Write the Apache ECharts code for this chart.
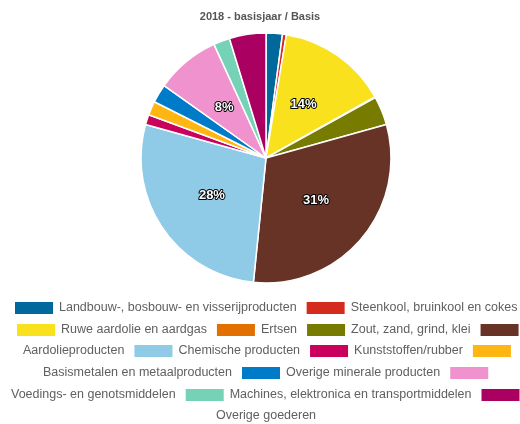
<!DOCTYPE html>
<html>
<head>
<meta charset="utf-8">
<script src="https://cdn.jsdelivr.net/npm/echarts@6/dist/echarts.min.js"></script>
<style>
  html, body { margin: 0; padding: 0; background: #fff; }
  #chart { width: 520px; height: 424px; }
</style>
</head>
<body>
<div id="chart"></div>
<script>
const categories = [
  'Landbouw-, bosbouw- en visserijproducten',
  'Steenkool, bruinkool en cokes',
  'Ruwe aardolie en aardgas',
  'Ertsen',
  'Zout, zand, grind, klei',
  'Aardolieproducten',
  'Chemische producten',
  'Kunststoffen/rubber',
  'Basismetalen en metaalproducten',
  'Overige minerale producten',
  'Voedings- en genotsmiddelen',
  'Machines, elektronica en transportmiddelen',
  'Overige goederen'
];
const values = [2.1, 0.5, 14.2, 0.1, 3.7, 30.8, 27.6, 1.3, 1.8, 2.4, 8.3, 2.1, 4.7];
const colors = ['#01689b', '#d52b1e', '#f9e11e', '#e17000', '#777c00', '#673327',
  '#8fcae7', '#ca005d', '#ffb612', '#007bc7', '#f092cd', '#76d2b6', '#a90061'];

// legend rows like the original: an icon can end a row while its text starts the next one
// each row: [left, centerY, items]; item = [index, part] part: 'b' both, 'i' icon only, 't' text only
const legendRows = [
  [13, 307, [[0, 'b'], [1, 'b']]],
  [15, 329, [[2, 'b'], [3, 'b'], [4, 'b'], [5, 'i']]],
  [-22, 350, [[5, 't'], [6, 'b'], [7, 'b'], [8, 'i']]],
  [-2, 372, [[8, 't'], [9, 'b'], [10, 'i']]],
  [-34, 394, [[10, 't'], [11, 'b'], [12, 'i']]],
  [171, 416, [[12, 't']]]
];

const chart = echarts.init(document.getElementById('chart'));

const legends = legendRows.map(([left, cy, items]) => {
  const iconOnly = items.filter(it => it[1] === 'i').map(it => categories[it[0]]);
  return {
    left: left,
    top: cy - 7,
    width: 800,
    orient: 'horizontal',
    padding: 0,
    itemGap: 8,
    itemWidth: 40,
    itemHeight: 14,
    selectedMode: false,
    textStyle: { fontFamily: 'Liberation Sans, Arial, sans-serif', fontSize: 12.5, color: '#606060' },
    formatter: name => iconOnly.includes(name) ? '' : name,
    data: items.map(([i, part]) => part === 't'
      ? { name: categories[i], icon: 'none' }
      : { name: categories[i], icon: 'rect' })
  };
});

chart.setOption({
  animation: false,
  title: {
    text: '2018 - basisjaar / Basis',
    left: 'center',
    top: 6,
    textStyle: { fontFamily: 'Liberation Sans, Arial, sans-serif', fontSize: 11, fontWeight: 'bold', color: '#555' }
  },
  legend: legends,
  series: [{
    type: 'pie',
    center: [266, 158],
    radius: 125,
    startAngle: 90,
    clockwise: true,
    avoidLabelOverlap: false,
    emphasis: { scale: false },
    itemStyle: { borderColor: '#fff', borderWidth: 1.5 },
    label: {
      position: 'inside',
      fontFamily: 'Liberation Sans, Arial, sans-serif',
      fontSize: 13,
      fontWeight: 'bold',
      color: '#fff',
      textBorderColor: '#000',
      textBorderWidth: 2,
      formatter: p => p.percent >= 5 ? Math.round(p.percent) + '%' : ''
    },
    labelLine: { show: false },
    data: categories.map((c, i) => ({ name: c, value: values[i], itemStyle: { color: colors[i] } }))
  }]
});
</script>
</body>
</html>
